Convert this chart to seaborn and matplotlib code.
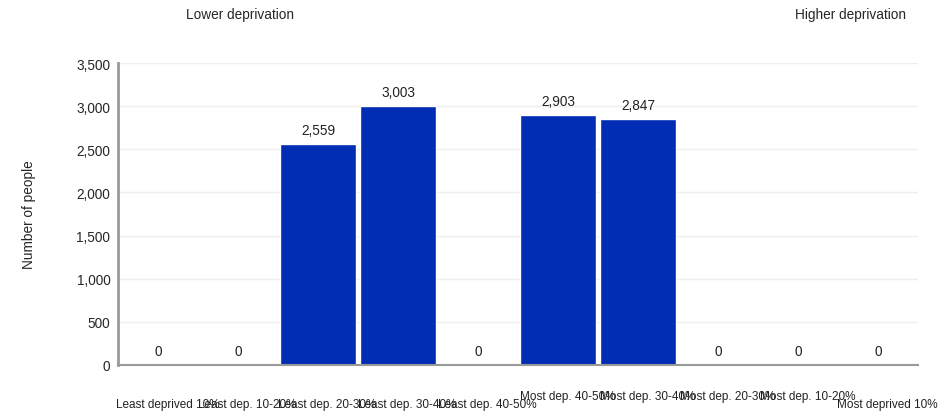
import pandas as pd
import numpy as np
import seaborn as sns
import matplotlib.pyplot as plt

categories = ['Least deprived 10%', 'Least dep. 10-20%', 'Least dep. 20-30%',
              'Least dep. 30-40%', 'Least dep. 40-50%', 'Most dep. 40-50%',
              'Most dep. 30-40%', 'Most dep. 20-30%', 'Most dep. 10-20%',
              'Most deprived 10%']
people = [0, 0, 2559, 3003, 0, 2903, 2847, 0, 0, 0]

df = pd.DataFrame({'group': categories, 'people': people})

sns.set_style('white')
plt.rcParams['font.family'] = ['Liberation Sans', 'DejaVu Sans']

fig = plt.figure(figsize=(9.53, 4.14), dpi=100)
ax = fig.add_axes([118 / 953, (414 - 366) / 414, 800 / 953, 302 / 414])

sns.barplot(data=df, x='group', y='people', color='#002db3', saturation=1,
            width=0.94, ax=ax)

for c in ax.containers:
    ax.bar_label(c, labels=[f'{v:,.0f}' for v in people], padding=5,
                 fontsize=9.8, color='#222222')

ax.set_ylim(0, 3500)
ax.set_xlim(-0.5, len(categories) - 0.5)
ax.set_yticks(np.arange(0, 3501, 500))
ax.set_yticklabels([f'{v:,}' for v in range(0, 3501, 500)], fontsize=9.8)
ax.yaxis.grid(True, color='#eeeeee', linewidth=1)
ax.set_axisbelow(True)

# staggered category labels under the axis, like the original
ax.set_xticks(range(len(categories)))
ax.set_xticklabels([])
for i, lab in enumerate(categories):
    y = -0.129 if (i < 5 or i == 9) else -0.103
    ax.text(i + 0.12, y, lab, transform=ax.get_xaxis_transform(), ha='center',
            va='center', fontsize=8.5, color='#222222')

ax.tick_params(axis='x', length=0)
ax.tick_params(axis='y', length=5, width=1, color='#999999', pad=0.5)

for s in ['top', 'right']:
    ax.spines[s].set_visible(False)
ax.spines['left'].set_color('#999999')
ax.spines['left'].set_linewidth(2)
ax.spines['bottom'].set_color('#999999')
ax.spines['bottom'].set_linewidth(1.5)

ax.set_xlabel('')
ax.set_ylabel('Number of people', fontsize=9.8, labelpad=29)

fig.text(240 / 953, 1 - 15 / 414, 'Lower deprivation', ha='center',
         va='center', fontsize=9.8)
fig.text(851 / 953, 1 - 15 / 414, 'Higher deprivation', ha='center',
         va='center', fontsize=9.8)

fig.savefig('out.png', dpi=100)
